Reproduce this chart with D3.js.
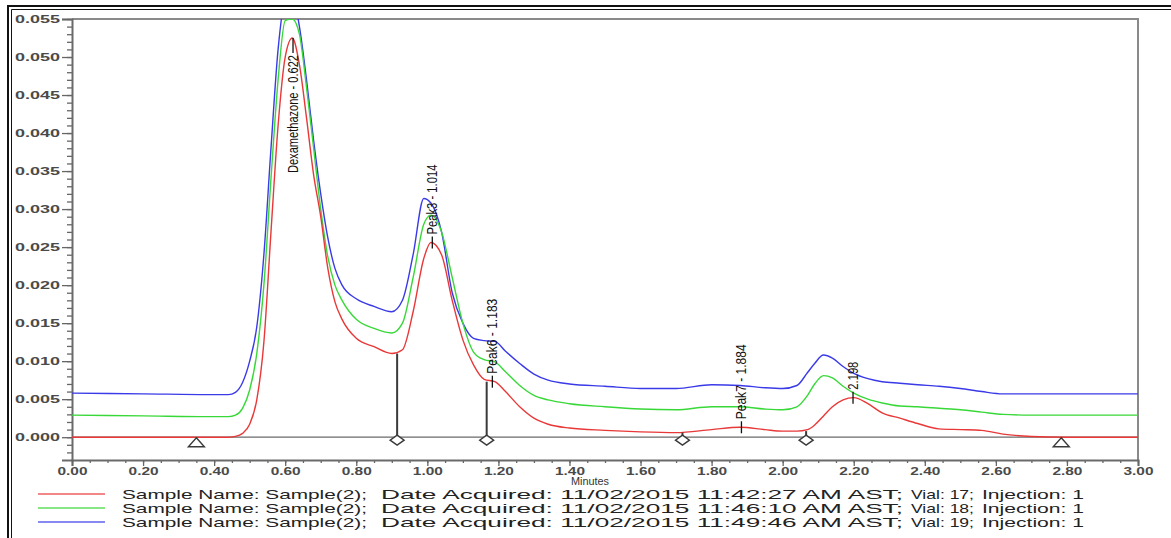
<!DOCTYPE html>
<html>
<head>
<meta charset="utf-8">
<script src="https://cdn.jsdelivr.net/npm/d3@7/dist/d3.min.js"></script>
<style>
  html, body { margin: 0; padding: 0; background: #fff; }
  svg { display: block; }
</style>
</head>
<body>
<svg id="chart" width="1171" height="538"></svg>
<script>
// Retention time grid (minutes) shared by the three injections
const timeMin = [0.00, 0.20, 0.40, 0.44, 0.46, 0.48, 0.50, 0.52, 0.54, 0.56, 0.58, 0.60, 0.62, 0.64, 0.66, 0.68, 0.70, 0.72, 0.74, 0.76, 0.80, 0.85, 0.90, 0.93, 0.96, 0.99, 1.01, 1.04, 1.07, 1.10, 1.13, 1.16, 1.19, 1.22, 1.26, 1.30, 1.34, 1.40, 1.50, 1.60, 1.70, 1.80, 1.88, 1.95, 2.00, 2.04, 2.07, 2.09, 2.115, 2.14, 2.17, 2.20, 2.24, 2.28, 2.33, 2.38, 2.44, 2.50, 2.56, 2.62, 2.70, 2.80, 3.00];

// Absorbance (AU), vial 17
const vial17AU = [0.0000, 0.0000, 0.0000, 0.0000, 0.0001, 0.0005, 0.0017, 0.0049, 0.0125, 0.0270, 0.0410, 0.0500, 0.0525, 0.0490, 0.0420, 0.0345, 0.0290, 0.0222, 0.0178, 0.0155, 0.0130, 0.0119, 0.0110, 0.0115, 0.0165, 0.0235, 0.0256, 0.0240, 0.0180, 0.0128, 0.0095, 0.0076, 0.0073, 0.0060, 0.0040, 0.0025, 0.0017, 0.0012, 0.0009, 0.0007, 0.0006, 0.0010, 0.0013, 0.0010, 0.0008, 0.0008, 0.0010, 0.0016, 0.0028, 0.0040, 0.0049, 0.0052, 0.0044, 0.0032, 0.0025, 0.0018, 0.0011, 0.0010, 0.0009, 0.0004, 0.0001, 0.0000, 0.0000];
// Absorbance (AU), vial 18
const vial18AU = [0.0029, 0.0028, 0.0027, 0.0027, 0.0029, 0.0038, 0.0062, 0.0110, 0.0200, 0.0340, 0.0470, 0.0548, 0.0550, 0.0530, 0.0460, 0.0380, 0.0300, 0.0237, 0.0200, 0.0180, 0.0155, 0.0143, 0.0137, 0.0150, 0.0210, 0.0280, 0.0292, 0.0270, 0.0210, 0.0150, 0.0112, 0.0102, 0.0099, 0.0086, 0.0068, 0.0055, 0.0049, 0.0044, 0.0040, 0.0037, 0.0036, 0.0040, 0.0040, 0.0037, 0.0036, 0.0040, 0.0055, 0.0070, 0.0081, 0.0078, 0.0067, 0.0058, 0.0050, 0.0045, 0.0041, 0.0040, 0.0038, 0.0036, 0.0033, 0.0030, 0.0029, 0.0029, 0.0029];
// Absorbance (AU), vial 19
const vial19AU = [0.0058, 0.0057, 0.0056, 0.0056, 0.0059, 0.0072, 0.0100, 0.0145, 0.0240, 0.0380, 0.0510, 0.0575, 0.0580, 0.0540, 0.0470, 0.0390, 0.0320, 0.0262, 0.0222, 0.0200, 0.0182, 0.0172, 0.0165, 0.0180, 0.0240, 0.0314, 0.0308, 0.0270, 0.0190, 0.0150, 0.0130, 0.0127, 0.0126, 0.0113, 0.0097, 0.0083, 0.0075, 0.0070, 0.0067, 0.0064, 0.0064, 0.0069, 0.0068, 0.0065, 0.0064, 0.0068, 0.0085, 0.0097, 0.0108, 0.0104, 0.0093, 0.0084, 0.0077, 0.0073, 0.0071, 0.0069, 0.0067, 0.0064, 0.0060, 0.0057, 0.0057, 0.0057, 0.0057];

const seriesColors = ["#e83838", "#38d838", "#3a3ae8"];
const legendLabels = [
  ["Sample Name: Sample(2);", "Date Acquired: 11/02/2015 11:42:27 AM AST;", "Vial: 17;", "Injection: 1"],
  ["Sample Name: Sample(2);", "Date Acquired: 11/02/2015 11:46:10 AM AST;", "Vial: 18;", "Injection: 1"],
  ["Sample Name: Sample(2);", "Date Acquired: 11/02/2015 11:49:46 AM AST;", "Vial: 19;", "Injection: 1"]
];

// Integrated peak labels (name, retention time, apex height on vial 17)
const peakNames = ["Dexamethazone", "Peak3", "Peak6", "Peak7", ""];
const peakTimes = [0.622, 1.014, 1.183, 1.884, 2.198];
const peakHeights = [0.0525, 0.0256, 0.0073, 0.0013, 0.0052];

// Integration events: baseline start/end (triangles) and valley drops (diamonds)
const baselineEnds = [0.35, 2.784];
const valleyTimes = [0.915, 1.167, 1.718, 2.066];
const valleyHeights = [0.0110, 0.0073, 0.0006, 0.0008];

const yTicks = [0.000, 0.005, 0.010, 0.015, 0.020, 0.025, 0.030, 0.035, 0.040, 0.045, 0.050, 0.055];
const xTicks = [0.0, 0.2, 0.4, 0.6, 0.8, 1.0, 1.2, 1.4, 1.6, 1.8, 2.0, 2.2, 2.4, 2.6, 2.8, 3.0];

const svg = d3.select("#chart");
const L = 72, R = 1138, T = 19, B = 460;

const x = d3.scaleLinear().domain([0, 3]).range([L, R]);
const y = d3.scaleLinear().domain([-0.003, 0.055]).range([B, T]);

// outer double border
const border = svg.append("g").attr("stroke", "#111").attr("fill", "none");
border.append("path").attr("d", "M8,538 V6 H1171").attr("stroke-width", 2);
border.append("path").attr("d", "M11.5,538 V9.5 H1171").attr("stroke-width", 1);

// plot frame (top and right)
svg.append("path").attr("d", `M${L},${T} H${R} V${B}`)
  .attr("fill", "none").attr("stroke", "#8a8a8a").attr("stroke-width", 2);

// zero line
svg.append("line").attr("x1", L).attr("x2", R).attr("y1", y(0)).attr("y2", y(0))
  .attr("stroke", "#6a6a6a").attr("stroke-width", 1.2);

// axes
const yMinor = d3.range(-0.002, 0.0551, 0.001).map(v => +v.toFixed(3));
svg.append("g").attr("transform", `translate(${L},0)`)
  .call(d3.axisLeft(y).tickValues(yMinor).tickSize(5).tickFormat(""))
  .call(g => g.select(".domain").remove())
  .selectAll("line").attr("stroke", "#666").attr("stroke-width", 1.3);

const yAxis = svg.append("g").attr("transform", `translate(${L},0)`)
  .call(d3.axisLeft(y).tickValues(yTicks).tickSize(10).tickPadding(2).tickFormat(d3.format(".3f")));
yAxis.select(".domain").attr("stroke", "#6a6a6a").attr("stroke-width", 2);
yAxis.selectAll(".tick line").attr("stroke", "#666").attr("stroke-width", 1.3);
yAxis.selectAll("text")
  .attr("font-family", "Liberation Sans, Arial, sans-serif").attr("font-size", 11.5)
  .attr("font-weight", "bold").attr("fill", "#4a4a4a")
  .attr("textLength", 45).attr("lengthAdjust", "spacingAndGlyphs");

const xMinor = d3.range(0, 3.001, 0.05).map(v => +v.toFixed(2));
svg.append("g").attr("transform", `translate(0,${B})`)
  .call(d3.axisBottom(x).tickValues(xMinor).tickSize(3).tickFormat(""))
  .call(g => g.select(".domain").remove())
  .selectAll("line").attr("stroke", "#666").attr("stroke-width", 1.3);

const xAxis = svg.append("g").attr("transform", `translate(0,${B})`)
  .call(d3.axisBottom(x).tickValues(xTicks).tickSize(6).tickPadding(1).tickFormat(d3.format(".2f")));
xAxis.select(".domain").attr("stroke", "#6a6a6a").attr("stroke-width", 2);
xAxis.selectAll(".tick line").attr("stroke", "#666").attr("stroke-width", 1.3);
xAxis.selectAll("text")
  .attr("font-family", "Liberation Sans, Arial, sans-serif").attr("font-size", 11.5)
  .attr("font-weight", "bold").attr("fill", "#4a4a4a")
  .attr("textLength", 30).attr("lengthAdjust", "spacingAndGlyphs");

svg.append("text").attr("x", 590).attr("y", 485).attr("text-anchor", "middle")
  .attr("font-family", "Liberation Sans, Arial, sans-serif").attr("font-size", 10.5)
  .attr("fill", "#333").attr("textLength", 38).attr("lengthAdjust", "spacingAndGlyphs")
  .text("Minutes");

// traces
svg.append("clipPath").attr("id", "plotClip").append("rect")
  .attr("x", L).attr("y", T).attr("width", R - L).attr("height", B - T);

const line = d3.line().x(d => x(d[0])).y(d => y(d[1])).curve(d3.curveMonotoneX);
const traces = [vial17AU, vial18AU, vial19AU];
const plot = svg.append("g").attr("clip-path", "url(#plotClip)");
traces.slice().reverse().forEach((vals, i) => {
  const k = traces.length - 1 - i;
  plot.append("path")
    .datum(timeMin.map((t, j) => [t, vals[j]]))
    .attr("d", line).attr("fill", "none")
    .attr("stroke", seriesColors[k]).attr("stroke-width", 1.4);
});

// valley drop lines and diamonds
const ink = "#3a3a3a";
valleyTimes.forEach((t, i) => {
  svg.append("line").attr("x1", x(t)).attr("x2", x(t))
    .attr("y1", y(valleyHeights[i])).attr("y2", y(0))
    .attr("stroke", ink).attr("stroke-width", 2);
  const cx = x(t), cy = y(0) + 3;
  svg.append("path").attr("d", `M${cx},${cy - 5} L${cx + 7},${cy} L${cx},${cy + 5} L${cx - 7},${cy} Z`)
    .attr("fill", "#fff").attr("stroke", ink).attr("stroke-width", 1.4);
});

// baseline start/end triangles
baselineEnds.forEach(t => {
  const cx = x(t), top = y(0) + 0.5;
  svg.append("path").attr("d", `M${cx},${top} L${cx + 8},${top + 9} L${cx - 8},${top + 9} Z`)
    .attr("fill", "#fff").attr("stroke", ink).attr("stroke-width", 1.4);
});

// peak labels: short tick at the apex, then rotated text
const labelFont = "Liberation Sans, Arial, sans-serif";
const labelLen = [118, 70, 75, 75, 28];
peakTimes.forEach((t, i) => {
  const px = x(t), py = y(peakHeights[i]);
  const txt = (peakNames[i] ? peakNames[i] + " - " : "") + d3.format(".3f")(t);
  if (i === 0) {
    // apex near the top: label hangs below the apex
    svg.append("line").attr("x1", px).attr("x2", px).attr("y1", py).attr("y2", py + 15)
      .attr("stroke", "#111").attr("stroke-width", 1.3);
    svg.append("text").attr("transform", `translate(${px + 5},${py + 17}) rotate(-90)`)
      .attr("text-anchor", "end").attr("font-family", labelFont).attr("font-size", 15)
      .attr("fill", "#111").attr("textLength", labelLen[i]).attr("lengthAdjust", "spacingAndGlyphs")
      .text(txt);
  } else {
    svg.append("line").attr("x1", px).attr("x2", px).attr("y1", py + 6).attr("y2", py - 6)
      .attr("stroke", "#111").attr("stroke-width", 1.3);
    svg.append("text").attr("transform", `translate(${px + 5},${py - 8}) rotate(-90)`)
      .attr("text-anchor", "start").attr("font-family", labelFont).attr("font-size", 15)
      .attr("fill", "#111").attr("textLength", labelLen[i]).attr("lengthAdjust", "spacingAndGlyphs")
      .text(txt);
  }
});

// legend
const segX = [122, 381, 911, 982];
const segW = [245, 522, 63, 102];
legendLabels.forEach((parts, i) => {
  const ly = 494 + i * 14;
  svg.append("line").attr("x1", 38).attr("x2", 105).attr("y1", ly).attr("y2", ly)
    .attr("stroke", seriesColors[i]).attr("stroke-width", 1.3).attr("opacity", 0.8);
  parts.forEach((p, j) => {
    svg.append("text").attr("x", segX[j]).attr("y", ly + 4.5)
      .attr("font-family", "Liberation Sans, Arial, sans-serif").attr("font-size", 13)
      .attr("fill", "#222").attr("textLength", segW[j]).attr("lengthAdjust", "spacingAndGlyphs")
      .text(p);
  });
});
</script>
</body>
</html>
